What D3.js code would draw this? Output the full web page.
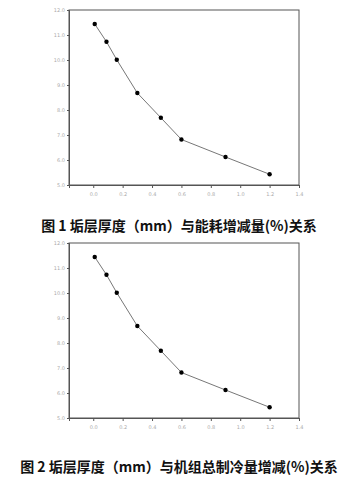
<!DOCTYPE html>
<html><head><meta charset="utf-8">
<script src="https://cdn.jsdelivr.net/npm/d3@7"></script>
<style>html,body{margin:0;padding:0;background:#fff;}svg{display:block;}</style>
</head><body>
<svg id="c" width="356" height="482"></svg>
<script>
const thickness = [0.01, 0.09, 0.16, 0.30, 0.46, 0.60, 0.90, 1.20];
const energyChange = [11.44, 10.73, 10.01, 8.68, 7.69, 6.82, 6.12, 5.43];
const coolingChange = [11.44, 10.73, 10.01, 8.68, 7.69, 6.82, 6.12, 5.43];
const xTicks = [0.0, 0.2, 0.4, 0.6, 0.8, 1.0, 1.2, 1.4];
const yTicks = [5, 6, 7, 8, 9, 10, 11, 12];
const captions = ["图 1 垢层厚度（mm）与能耗增减量(%)关系", "图 2 垢层厚度（mm）与机组总制冷量增减(%)关系"];

const svg = d3.select("#c");
const x = d3.scaleLinear().domain([-0.165, 1.4]).range([69, 299]);

function panel(top, values, caption, capY) {
  const y = d3.scaleLinear().domain([5, 12]).range([top + 175, top]);
  const g = svg.append("g");
  g.append("rect").attr("x", 69).attr("y", top).attr("width", 230).attr("height", 175)
    .attr("fill", "none").attr("stroke", "#555").attr("stroke-width", 1);
  const ya = g.append("g").attr("transform", "translate(69,0)")
    .call(d3.axisLeft(y).tickValues(yTicks).tickSize(2).tickPadding(2).tickFormat(d3.format(".1f")));
  const xa = g.append("g").attr("transform", `translate(0,${top + 175})`)
    .call(d3.axisBottom(x).tickValues(xTicks).tickSize(3).tickPadding(4).tickFormat(d3.format(".1f")));
  [ya, xa].forEach(a => {
    a.select(".domain").attr("stroke", "#555");
    a.selectAll(".tick line").attr("stroke", "#555");
    a.selectAll("text").attr("fill", "#aaa").style("font-size", "5px").style("font-family", "DejaVu Sans");
  });
  const pts = thickness.map((t, i) => [t, values[i]]);
  g.append("path").datum(pts)
    .attr("d", d3.line().x(d => x(d[0])).y(d => y(d[1])))
    .attr("fill", "none").attr("stroke", "#777").attr("stroke-width", 1);
  g.selectAll("circle").data(pts).join("circle")
    .attr("cx", d => x(d[0])).attr("cy", d => y(d[1])).attr("r", 2.2).attr("fill", "#000");
  svg.append("text").attr("x", 179).attr("y", capY).attr("text-anchor", "middle")
    .attr("dominant-baseline", "central")
    .style("font-family", "'Noto Sans CJK SC', sans-serif").style("font-weight", "bold")
    .style("font-size", "14px").attr("fill", "#111").text(caption);
}
panel(10, energyChange, captions[0], 225);
panel(243, coolingChange, captions[1], 466);
</script>
</body></html>
